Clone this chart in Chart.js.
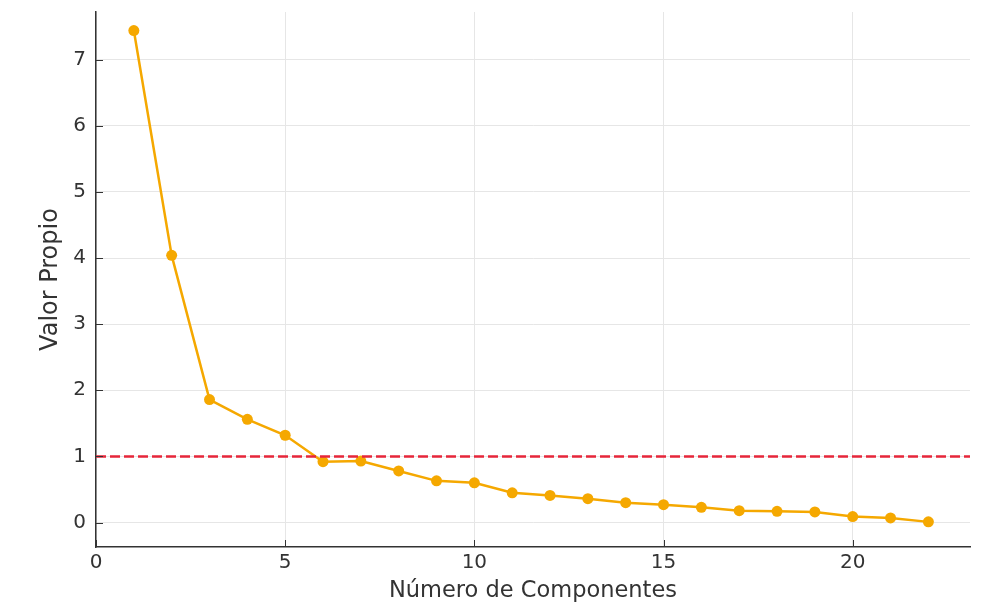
<!DOCTYPE html>
<html>
<head>
<meta charset="utf-8">
<script src="https://cdn.jsdelivr.net/npm/chart.js@4"></script>
<style>
  html, body { margin: 0; padding: 0; background: #fff; }
  canvas { display: block; }
</style>
</head>
<body>
<canvas id="screePlot" width="991" height="605"></canvas>
<script>
// datos del gráfico de sedimentación
const componentes = [1, 2, 3, 4, 5, 6, 7, 8, 9, 10, 11, 12, 13, 14, 15, 16, 17, 18, 19, 20, 21, 22];
const valoresPropios = [7.44, 4.04, 1.86, 1.56, 1.32, 0.92, 0.93, 0.78, 0.63, 0.60, 0.45, 0.41,
  0.36, 0.30, 0.27, 0.23, 0.18, 0.17, 0.16, 0.09, 0.07, 0.01];
const umbral = 1; // criterio de Kaiser
const rangoX = [0, 23.1];
const rangoY = [-0.37, 7.72];

const fuente = "'DejaVu Sans', sans-serif";

// marcas de los ejes hacia dentro, como en matplotlib
const marcasInternas = {
  id: 'marcasInternas',
  afterDraw(chart) {
    const { ctx, chartArea, scales } = chart;
    ctx.save();
    ctx.strokeStyle = '#333';
    ctx.lineWidth = 1;
    ctx.beginPath();
    scales.y.ticks.forEach(t => {
      const py = Math.round(scales.y.getPixelForValue(t.value)) + 0.5;
      ctx.moveTo(chartArea.left, py);
      ctx.lineTo(chartArea.left + 7, py);
    });
    scales.x.ticks.forEach(t => {
      const px = Math.round(scales.x.getPixelForValue(t.value)) + 0.5;
      ctx.moveTo(px, chartArea.bottom);
      ctx.lineTo(px, chartArea.bottom - 7);
    });
    ctx.stroke();
    ctx.restore();
  }
};

const ctx = document.getElementById('screePlot').getContext('2d');
const screePlot = new Chart(ctx, {
  type: 'line',
  data: {
    datasets: [
      {
        label: 'Umbral',
        data: rangoX.map(x => ({ x: x, y: umbral })),
        borderColor: '#e6263a',
        borderWidth: 2.5,
        borderDash: [10, 4],
        pointRadius: 0,
        order: 0
      },
      {
        label: 'Valor Propio',
        data: componentes.map((c, i) => ({ x: c, y: valoresPropios[i] })),
        borderColor: '#f5a800',
        backgroundColor: '#f5a800',
        borderWidth: 2.5,
        pointRadius: 5.5,
        pointBorderWidth: 0,
        pointBackgroundColor: '#f5a800',
        order: 1
      }
    ]
  },
  options: {
    responsive: false,
    animation: false,
    devicePixelRatio: 1,
    layout: { padding: { top: 12, right: 21, left: 0, bottom: 0 } },
    plugins: {
      legend: { display: false },
      tooltip: { enabled: false }
    },
    scales: {
      x: {
        type: 'linear',
        min: rangoX[0],
        max: rangoX[1],
        afterFit: s => { s.height = 58; s.paddingLeft = 0; s.paddingRight = 0; },
        ticks: {
          stepSize: 5,
          includeBounds: false,
          padding: 4,
          color: '#333',
          font: { family: fuente, size: 20 }
        },
        grid: { color: '#e6e6e6', lineWidth: 1, drawTicks: false },
        border: { display: true, color: '#333', width: 1.5 },
        title: {
          display: true,
          text: 'Número de Componentes',
          color: '#333',
          font: { family: fuente, size: 22.5 },
          padding: { top: 0, bottom: 0 }
        }
      },
      y: {
        min: rangoY[0],
        max: rangoY[1],
        afterFit: s => { s.width = 96; s.paddingTop = 0; s.paddingBottom = 0; },
        ticks: {
          stepSize: 1,
          includeBounds: false,
          padding: 10,
          color: '#333',
          font: { family: fuente, size: 20 }
        },
        grid: { color: '#e6e6e6', lineWidth: 1, drawTicks: false },
        border: { display: true, color: '#333', width: 1.5 },
        title: {
          display: true,
          text: 'Valor Propio',
          color: '#333',
          font: { family: fuente, size: 24 },
          padding: { top: 36, bottom: 0 }
        }
      }
    }
  },
  plugins: [marcasInternas]
});
</script>
</body>
</html>
